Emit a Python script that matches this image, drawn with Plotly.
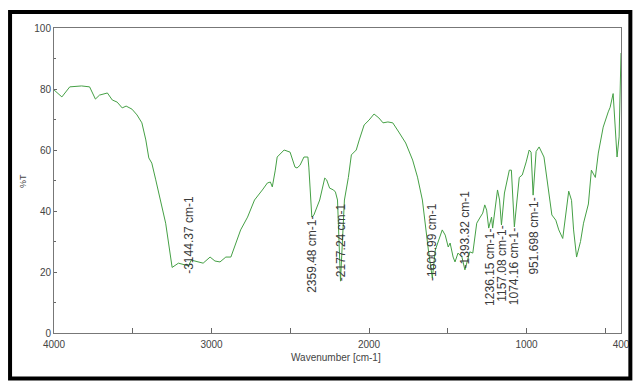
import plotly.graph_objects as go

# Wavenumber (cm-1) and transmittance (%T)
wavenumber = [4000, 3950, 3900, 3825, 3774, 3737, 3711, 3661, 3630, 3599, 3567, 3542, 3505,
              3473, 3442, 3417, 3398, 3379, 3354, 3323, 3291, 3250, 3210, 3166, 3147, 3128,
              3084, 3053, 3009, 2978, 2946, 2909, 2877, 2815, 2771, 2727, 2677, 2645, 2626,
              2614, 2595, 2583, 2539, 2501, 2470, 2457, 2438, 2413, 2388, 2382, 2363, 2350,
              2313, 2281, 2269, 2250, 2225, 2213, 2200, 2181, 2156, 2131, 2112, 2081, 2062,
              2031, 2000, 1968, 1937, 1911, 1880, 1849, 1811, 1767, 1723, 1692, 1661, 1642,
              1623, 1598, 1579, 1535, 1516, 1497, 1485, 1466, 1454, 1435, 1410, 1391, 1360,
              1341, 1316, 1297, 1278, 1265, 1253, 1240, 1222, 1215, 1203, 1184, 1171, 1159,
              1140, 1109, 1096, 1077, 1046, 1027, 1002, 983, 971, 958, 939, 920, 889, 870,
              839, 814, 795, 770, 751, 732, 714, 701, 682, 657, 638, 607, 588, 563, 544, 513,
              481, 469, 450, 437, 425, 412, 405, 400]
transmittance = [79.7, 77.4, 80.7, 81.0, 80.7, 76.7, 78.0, 78.7, 76.4, 75.7, 73.8, 74.4, 73.4,
                 71.5, 68.9, 63.3, 57.4, 55.7, 50.2, 43.6, 36.0, 21.5, 22.9, 22.3, 22.0, 23.9,
                 23.3, 22.9, 24.9, 23.6, 23.3, 24.9, 24.9, 33.8, 38.0, 43.6, 46.9, 49.2, 49.5,
                 47.9, 53.4, 57.7, 60.0, 59.3, 54.4, 54.1, 55.0, 57.7, 57.7, 54.4, 38.0, 38.7,
                 43.6, 50.8, 50.2, 47.5, 46.9, 46.2, 43.6, 17.0, 43.6, 51.0, 58.4, 60.0, 63.3,
                 68.2, 69.8, 71.8, 70.5, 68.9, 69.2, 68.9, 65.9, 62.3, 56.7, 51.1, 43.6, 34.8,
                 27.2, 18.0, 27.2, 33.8, 32.1, 28.2, 29.5, 24.9, 23.3, 26.2, 24.9, 20.7, 26.6,
                 26.2, 36.0, 37.7, 39.3, 42.0, 40.3, 34.4, 38.0, 34.4, 38.7, 46.9, 43.6, 35.4,
                 45.9, 53.4, 53.4, 34.8, 51.0, 51.8, 56.1, 60.0, 59.3, 45.2, 59.5, 61.0, 57.7, 50.2,
                 38.7, 37.0, 33.8, 31.0, 38.0, 46.5, 43.5, 33.8, 24.9, 30.0, 36.0, 42.3, 53.4, 51.0, 59.0, 67.5,
                 72.5, 74.0, 78.5, 67.5, 57.7, 64.3, 90.5, 91.8]

# Peak labels: wavenumber, label text, anchor level (%T), label placed above (True) or below (False)
peak_x = [3144.37, 2359.48, 2177.24, 1600.99, 1393.32, 1236.15, 1157.08, 1074.16, 951.698]
peak_text = ["3144.37 cm-1", "2359.48 cm-1", "2177.24 cm-1", "1600.99 cm-1", "1393.32 cm-1",
             "1236.15 cm-1", "1157.08 cm-1", "1074.16 cm-1", "951.698 cm-1"]
peak_y = [19.0, 38.7, 16.7, 16.7, 20.7, 34.4, 35.4, 34.8, 44.6]
peak_above = [True, False, True, True, True, False, False, False, False]

x_labels = [4000, 3000, 2000, 1000, 400]
x_minor = [3500, 2500, 1500, 500]
y_labels = [0, 20, 40, 60, 80, 100]
y_minor = [10, 30, 50, 70, 90]

fig = go.Figure()
fig.add_trace(go.Scatter(x=wavenumber, y=transmittance, mode="lines",
                         line=dict(color="#45a045", width=1), hoverinfo="skip"))

tick_font = dict(family="Liberation Sans, Arial, sans-serif", size=10, color="#444")
for px_, t, py_, above in zip(peak_x, peak_text, peak_y, peak_above):
    fig.add_annotation(x=px_, y=py_, xref="x", yref="y",
                       text=("-" + t) if above else (t + "-"),
                       showarrow=False, textangle=-90,
                       xanchor="center", yanchor="bottom" if above else "top",
                       font=dict(family="Liberation Sans, Arial, sans-serif", size=12, color="#3a3a3a"),
                       borderpad=0)

fig.add_annotation(x=0.498, y=-0.079, xref="paper", yref="paper", text="Wavenumber [cm-1]",
                   showarrow=False, font=dict(family="Liberation Sans, Arial, sans-serif", size=10, color="#444"),
                   xanchor="center", yanchor="middle")
fig.add_annotation(x=-0.0557, y=0.50, xref="paper", yref="paper", text="%T", textangle=-90,
                   showarrow=False, font=dict(family="Liberation Sans, Arial, sans-serif", size=9, color="#444"),
                   xanchor="center", yanchor="middle")

# outer black frame
fig.add_shape(type="rect", xref="paper", yref="paper",
              x0=-0.0775, x1=1.0165, y0=-0.1495, y1=1.0525,
              line=dict(color="black", width=4), fillcolor="rgba(0,0,0,0)", layer="above")

fig.update_layout(
    width=642, height=383,
    margin=dict(l=54, r=14, t=28, b=50),
    paper_bgcolor="white", plot_bgcolor="white",
    showlegend=False,
    xaxis=dict(range=[4000, 400], tickvals=x_labels, ticktext=[str(v) for v in x_labels],
               ticks="inside", ticklen=5, tickcolor="#666", showgrid=False, zeroline=False,
               showline=True, linecolor="#777", linewidth=1, mirror=True,
               tickfont=tick_font, ticklabelstandoff=2,
               minor=dict(tickvals=x_minor, ticks="inside", ticklen=5, tickcolor="#666")),
    yaxis=dict(range=[0, 100], tickvals=y_labels, ticks="inside", ticklen=3, tickcolor="#666",
               showgrid=False, zeroline=False, showline=True, linecolor="#777", linewidth=1,
               mirror=True, tickfont=tick_font,
               minor=dict(tickvals=y_minor, ticks="inside", ticklen=2, tickcolor="#666")),
)

fig.write_html("out.html", config={"displayModeBar": False},
               post_script="document.body.style.margin='0';")
